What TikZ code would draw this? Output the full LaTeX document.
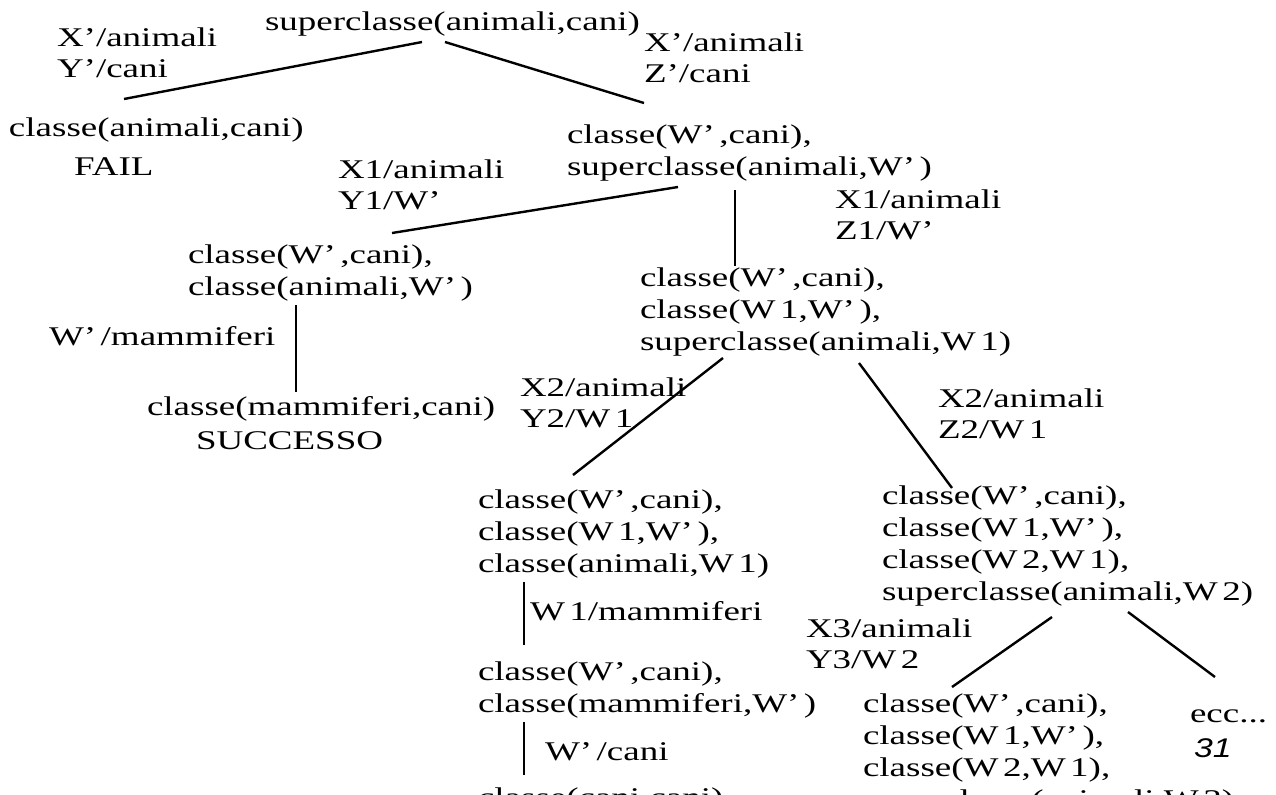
\documentclass[tikz,border=0pt]{standalone}
\usepackage{fontspec}
\setmainfont{Liberation Serif}[FakeStretch=1.37]
\newfontfamily\pagefont{Liberation Sans}[FakeStretch=1.25]
\usetikzlibrary{calc}

\begin{document}
\begin{tikzpicture}[x=0.5pt,y=-0.5pt]
  \tikzset{GoalStyle/.style = {
    anchor        = base west,
    align         = left,
    inner sep     = 0pt,
    outer sep     = 0pt,
    text          = black,
    font          = \fontsize{13.5}{16}\selectfont
    }
  }
  \tikzset{SubstStyle/.style = {
    GoalStyle,
    font          = \fontsize{13.5}{15.5}\selectfont
    }
  }
  \tikzset{EdgeStyle/.style = {
    draw          = black,
    line width    = 1.2pt
    }
  }
  \useasboundingbox (0,0) rectangle (1276,794);
  \clip (0,0) rectangle (1276,794);

  % goals (base = last line)
  \node[GoalStyle](R)   at (265, 30)  {superclasse(animali,cani)};
  \node[GoalStyle](N1)  at (9, 136)   {classe(animali,cani)};
  \node[GoalStyle](F1)  at (74, 175)  {FAIL};
  \node[GoalStyle](N2)  at (567, 175) {classe(W'\,,cani),\\superclasse(animali,W'\,)};
  \node[GoalStyle](N3)  at (188, 295) {classe(W'\,,cani),\\classe(animali,W'\,)};
  \node[GoalStyle](N4)  at (147, 415) {classe(mammiferi,cani)};
  \node[GoalStyle](S1)  at (196, 449) {SUCCESSO};
  \node[GoalStyle](N5)  at (640, 350) {classe(W'\,,cani),\\classe(W\,1,W'\,),\\superclasse(animali,W\,1)};
  \node[GoalStyle](N6)  at (478, 572) {classe(W'\,,cani),\\classe(W\,1,W'\,),\\classe(animali,W\,1)};
  \node[GoalStyle](N7)  at (478, 712) {classe(W'\,,cani),\\classe(mammiferi,W'\,)};
  \node[GoalStyle](N8)  at (478, 806) {classe(cani,cani)};
  \node[GoalStyle](N9)  at (882, 600) {classe(W'\,,cani),\\classe(W\,1,W'\,),\\classe(W\,2,W\,1),\\superclasse(animali,W\,2)};
  \node[GoalStyle](N10) at (863, 808) {classe(W'\,,cani),\\classe(W\,1,W'\,),\\classe(W\,2,W\,1),\\superclasse(animali,W\,3)};
  \node[GoalStyle](E1)  at (1190, 722) {ecc...};
  \node[GoalStyle, font=\pagefont\itshape\fontsize{13.5}{15}\selectfont](P1) at (1194, 757) {31};

  % substitutions
  \node[SubstStyle](SA) at (57, 77)   {X'/animali\\Y'/cani};
  \node[SubstStyle](SB) at (644, 82)  {X'/animali\\Z'/cani};
  \node[SubstStyle](SC) at (338, 209) {X1/animali\\Y1/W'\,};
  \node[SubstStyle](SD) at (835, 239) {X1/animali\\Z1/W'\,};
  \node[SubstStyle](SE) at (49, 345)  {W'\,/mammiferi};
  \node[SubstStyle](SF) at (520, 427) {X2/animali\\Y2/W\,1};
  \node[SubstStyle](SG) at (938, 438) {X2/animali\\Z2/W\,1};
  \node[SubstStyle](SH) at (530, 620) {W\,1/mammiferi};
  \node[SubstStyle](SI) at (545, 760) {W'\,/cani};
  \node[SubstStyle](SJ) at (806, 668) {X3/animali\\Y3/W\,2};

  % edges
  \draw[EdgeStyle] ($(R.base west)+(157,12)$)   -- ($(N1.base west)+(115,-37)$);
  \draw[EdgeStyle] ($(R.base west)+(180,12)$)   -- ($(N2.base west)+(77,-72)$);
  \draw[EdgeStyle] ($(N2.base west)+(111,12)$)  -- ($(N3.base west)+(204,-62)$);
  \draw[EdgeStyle] ($(N2.base west)+(168,15)$)  -- ($(N5.base west)+(95,-84)$);
  \draw[EdgeStyle] ($(N3.base west)+(108,10)$)  -- ($(N4.base west)+(149,-23)$);
  \draw[EdgeStyle] ($(N5.base west)+(83,8)$)    -- ($(N6.base west)+(95,-97)$);
  \draw[EdgeStyle] ($(N5.base west)+(219,13)$)  -- ($(N9.base west)+(70,-112)$);
  \draw[EdgeStyle] ($(N6.base west)+(46,10)$)   -- ($(N7.base west)+(46,-67)$);
  \draw[EdgeStyle] ($(N7.base west)+(46,10)$)   -- ($(N8.base west)+(46,-31)$);
  \draw[EdgeStyle] ($(N9.base west)+(170,17)$)  -- ($(N10.base west)+(89,-121)$);
  \draw[EdgeStyle] ($(N9.base west)+(246,12)$)  -- ($(E1.base west)+(25,-45)$);

\end{tikzpicture}
\end{document}
